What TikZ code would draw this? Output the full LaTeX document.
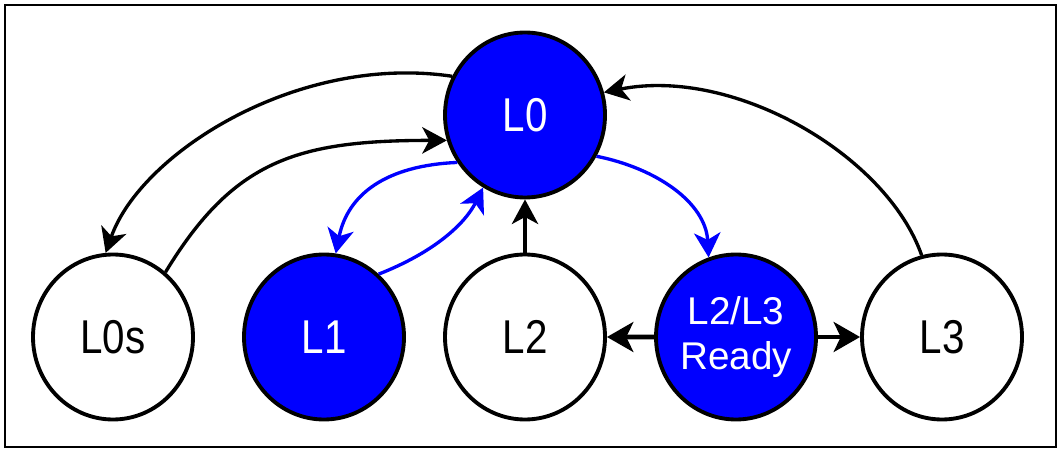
\documentclass[tikz,border=0pt]{standalone}
\usepackage{fontspec}
\setmainfont{Liberation Sans}
\newfontfamily\narrowfont[FakeStretch=0.85]{Liberation Sans}
\usetikzlibrary{shapes.geometric}
\usetikzlibrary{arrows.meta}
\usetikzlibrary{positioning}
\tikzset{every picture/.style={line width=0.95pt},
state/.style={ellipse,draw,line width=1.1pt,minimum width=1.6cm,minimum height=1.65cm,inner sep=0pt,font=\narrowfont\fontsize{13.5}{15}\selectfont},
active/.style={state,fill=blue,text=white},
arr/.style={-{Stealth[length=7pt,width=7.5pt,inset=2pt]}},
barr/.style={arr,blue},
harr/.style={-{Stealth[length=7.5pt,width=8.5pt,inset=2pt]},line width=1.3pt}}

\begin{document}
\begin{tikzpicture}
\useasboundingbox (0,0) rectangle (10.63,4.56);
\draw[line width=0.7pt] (0.05,0.09) rectangle (10.56,4.51);

\node (l0) at (5.25,3.41) [active] {L0};
\node (l2) [below of=l0, node distance=2.22cm, state] {L2};
\node (l0s) at (1.13,1.19) [state] {L0s};
\node (l1) at (3.24,1.19) [active] {L1};
\node (rdy) at (7.36,1.19) [active,align=center,font=\fontsize{11}{12.8}\selectfont] {L2/L3\\Ready};
\node (l3) at (9.42,1.19) [state] {L3};

% L0 <-> L0s
\draw[arr] (l0.152) .. controls +(-1.54,0.23) and +(0.35,1.00) .. (l0s.95);
\draw[arr] (l0s.51) .. controls +(0.68,1.12) and +(-1.50,0) .. (l0.198);
% L0 <-> L1
\draw[barr] (l0.215) .. controls +(-0.70,-0.03) and +(0.12,0.60) .. (l1.82);
\draw[barr] (l1.49) .. controls +(0.56,0.22) and +(-0.18,-0.36) .. (l0.240);
\draw[arr] (l2) -- (l0);
\draw[barr] (l0.330) .. controls +(0.60,-0.12) and +(-0.03,0.55) .. (rdy.109);
\draw[harr] (rdy) -- (l2);
\draw[harr] (rdy) -- (l3);
\draw[arr] (l3.104) .. controls +(-0.35,1.00) and +(1.30,0.26) .. (l0.16);

\end{tikzpicture}
\end{document}
